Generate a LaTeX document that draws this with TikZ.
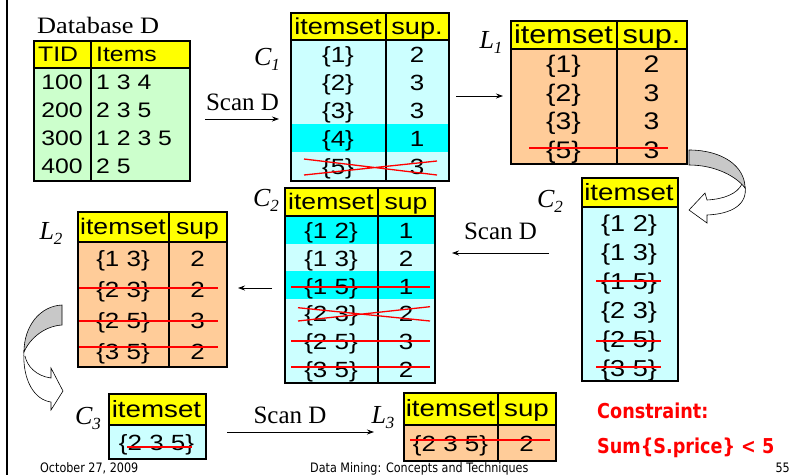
\documentclass[tikz,border=0pt]{standalone}
\usepackage{fontspec}
\setmainfont{Liberation Serif}
\newfontfamily\arialf[FakeStretch=1.18]{Liberation Sans}
\newfontfamily\dbfont[FakeStretch=1.12]{Liberation Serif}
\newfontfamily\tahomaf[FakeStretch=0.86]{DejaVu Sans}
\usetikzlibrary{arrows.meta}
\definecolor{hdrY}{RGB}{255,255,0}
\definecolor{bodyG}{RGB}{204,255,204}
\definecolor{bodyC}{RGB}{204,255,255}
\definecolor{hiC}{RGB}{0,255,255}
\definecolor{bodyO}{RGB}{255,204,153}
\definecolor{strikeR}{RGB}{255,0,0}
\definecolor{ribbon}{RGB}{200,200,200}
\tikzset{
  tx/.style={font=\arialf\fontsize{#1}{#1}\selectfont, inner sep=0pt,
             text height={0.716*#1pt}, text depth=0pt},
  tx/.default=22,
  lbl/.style={font=\fontsize{25}{25}\selectfont, inner sep=0pt,
              text height=16.5pt, text depth=0pt},
  ilbl/.style={font=\itshape\fontsize{26}{26}\selectfont, inner sep=0pt,
               text height=17pt, text depth=0pt},
  frame/.style={draw=black, line width=1.6pt, inner sep=0pt},
  grid/.style={draw=black, line width=1.4pt},
  strike/.style={draw=strikeR, line width=2.6pt},
  cross/.style={draw=strikeR, line width=1.3pt},
  flow/.style={draw=black, line width=0.8pt, -{Stealth[length=7pt,width=5pt]}},
  ribbonface/.style={fill=ribbon, draw=black, line width=0.6pt},
  ribbonback/.style={fill=white, draw=black, line width=0.6pt},
  note/.style={font=\tahomaf\bfseries\fontsize{20.5}{20.5}\selectfont,
               text=strikeR, inner sep=0pt, anchor=base west},
  foot/.style={font=\tahomaf\fontsize{13}{13}\selectfont, inner sep=0pt}
}
\newcommand\subl[2]{#1\raisebox{-5pt}{\fontsize{17}{17}\selectfont #2}}
\begin{document}
\begin{tikzpicture}[x=1pt,y=-1pt]
\useasboundingbox (0,0) rectangle (795,475);
\fill[white] (0,0) rectangle (795,475);
% slide margin rule
\draw[line width=2pt] (7,0) -- (7,475);

% ---------------- Database D ----------------
\node[font=\dbfont\fontsize{23.5}{23.5}\selectfont, inner sep=0pt, anchor=base west] (dbtitle) at (37,33) {Database D};
\fill[bodyG] (33,40) rectangle (189,180);
\fill[hdrY] (33,40) rectangle (189,68);
\draw[grid] (33,68) -- (189,68) (91,40) -- (91,180);
\node[frame, minimum width=156pt, minimum height=140pt, anchor=north west] (db) at (33,40) {};
\node[tx=21, anchor=west] (dbh1) at (38,54) {TID};
\node[tx=21, anchor=west] (dbh2) at (96,54) {Items};
\node[tx=21] (dbt1) at (62,82) {100};  \node[tx=21, anchor=west] (dbi1) at (96,82) {1 3 4};
\node[tx=21] (dbt2) at (62,110) {200}; \node[tx=21, anchor=west] (dbi2) at (96,110) {2 3 5};
\node[tx=21] (dbt3) at (62,138) {300}; \node[tx=21, anchor=west] (dbi3) at (96,138) {1 2 3 5};
\node[tx=21] (dbt4) at (62,166) {400}; \node[tx=21, anchor=west] (dbi4) at (96,166) {2 5};

% scan to C1
\node[lbl] (scan1) at (242.5,102.5) {Scan D};
\coordinate (s1a) at (205,119);
\coordinate (s1b) at (279,119);
\draw[flow] (s1a) -- (s1b);

% ---------------- C1 ----------------
\node[ilbl] (c1lab) at (267,56.5) {\subl{C}{1}};
\fill[bodyC] (290,40) rectangle (448,180);
\fill[hiC] (290,124) rectangle (448,152);
\fill[hdrY] (290,12) rectangle (448,40);
\draw[grid] (290,40) -- (448,40) (386,12) -- (386,180);
\node[frame, minimum width=158pt, minimum height=168pt, anchor=north west] (c1) at (290,12) {};
\node[tx=23] (c1h1) at (338,26) {itemset};
\node[tx=23] (c1h2) at (417,26) {sup.};
\node[tx] (c1a1) at (338,55) {\{1\}}; \node[tx] (c1b1) at (417,55) {2};
\node[tx] (c1a2) at (338,83) {\{2\}}; \node[tx] (c1b2) at (417,83) {3};
\node[tx] (c1a3) at (338,111) {\{3\}}; \node[tx] (c1b3) at (417,111) {3};
\node[tx] (c1a4) at (338,139) {\{4\}}; \node[tx] (c1b4) at (417,139) {1};
\node[tx] (c1a5) at (338,167) {\{5\}}; \node[tx] (c1b5) at (417,167) {3};
\draw[cross] (304,159) -- (437,175) (304,175) -- (437,161);

% C1 to L1
\coordinate (s2a) at (456,96);
\coordinate (s2b) at (503,96);
\draw[flow] (s2a) -- (s2b);

% ---------------- L1 ----------------
\node[ilbl] (l1lab) at (491,40) {\subl{L}{1}};
\fill[bodyO] (510,49) rectangle (686,163);
\fill[hdrY] (510,20) rectangle (686,49);
\draw[grid] (510,49) -- (686,49) (617,20) -- (617,163);
\node[frame, minimum width=176pt, minimum height=143pt, anchor=north west] (l1) at (510,20) {};
\node[tx=26] (l1h1) at (563.5,34.5) {itemset};
\node[tx=26] (l1h2) at (651.5,34.5) {sup.};
\node[tx=24] (l1a1) at (563.5,64) {\{1\}}; \node[tx=24] (l1b1) at (651.5,64) {2};
\node[tx=24] (l1a2) at (563.5,92.5) {\{2\}}; \node[tx=24] (l1b2) at (651.5,92.5) {3};
\node[tx=24] (l1a3) at (563.5,121) {\{3\}}; \node[tx=24] (l1b3) at (651.5,121) {3};
\node[tx=24] (l1a4) at (563.5,149.5) {\{5\}}; \node[tx=24] (l1b4) at (651.5,149.5) {3};
\draw[strike] (529,148) -- (668,148);

% ribbon arrow from L1 down to C2
\filldraw[ribbonback] (745,186) .. controls (748,205) and (731,214) .. (707,215)
   -- (707,223) -- (689,210) -- (705,193) -- (707,200)
   .. controls (724,199) and (737,194) .. (742,184);
\filldraw[ribbonface] (689,150) .. controls (722,150) and (745,166) .. (745,188)
   .. controls (737,177) and (716,165) .. (689,165) -- cycle;

% ---------------- C2 (candidates) ----------------
\node[ilbl] (c2rlab) at (550,199) {\subl{C}{2}};
\fill[bodyC] (581,207) rectangle (677,380);
\fill[hdrY] (581,177) rectangle (677,207);
\draw[grid] (581,207) -- (677,207);
\node[frame, minimum width=96pt, minimum height=203pt, anchor=north west] (c2r) at (581,177) {};
\node[tx=23.5] (c2rh) at (629,192) {itemset};
\node[tx=23] (c2r1) at (629,223.5) {\{1 2\}};
\node[tx=23] (c2r2) at (629,252.5) {\{1 3\}};
\node[tx=23] (c2r3) at (629,281.5) {\{1 5\}};
\node[tx=23] (c2r4) at (629,310.5) {\{2 3\}};
\node[tx=23] (c2r5) at (629,339.5) {\{2 5\}};
\node[tx=23] (c2r6) at (629,368.5) {\{3 5\}};
\draw[strike] (596,281) -- (661,281) (596,341) -- (661,341) (596,367) -- (661,367);

% scan to counted C2
\node[lbl] (scan2) at (500.5,231) {Scan D};
\coordinate (s3a) at (549,253);
\coordinate (s3b) at (452,253);
\draw[flow] (s3a) -- (s3b);

% ---------------- C2 (counted) ----------------
\node[ilbl] (c2mlab) at (266,198) {\subl{C}{2}};
\fill[bodyC] (284,216) rectangle (434,382);
\fill[hiC] (284,216) rectangle (434,243.7);
\fill[hiC] (284,271.3) rectangle (434,299);
\fill[hdrY] (284,187) rectangle (434,216);
\draw[grid] (284,216) -- (434,216) (378,187) -- (378,382);
\node[frame, minimum width=150pt, minimum height=195pt, anchor=north west] (c2m) at (284,187) {};
\node[tx=22.5] (c2mh1) at (331,201.5) {itemset};
\node[tx=22.5] (c2mh2) at (406,201.5) {sup};
\node[tx] (c2ma1) at (331,230.8) {\{1 2\}}; \node[tx] (c2mb1) at (406,230.8) {1};
\node[tx] (c2ma2) at (331,258.5) {\{1 3\}}; \node[tx] (c2mb2) at (406,258.5) {2};
\node[tx] (c2ma3) at (331,286.2) {\{1 5\}}; \node[tx] (c2mb3) at (406,286.2) {1};
\node[tx] (c2ma4) at (331,313.8) {\{2 3\}}; \node[tx] (c2mb4) at (406,313.8) {2};
\node[tx] (c2ma5) at (331,341.5) {\{2 5\}}; \node[tx] (c2mb5) at (406,341.5) {3};
\node[tx] (c2ma6) at (331,369.2) {\{3 5\}}; \node[tx] (c2mb6) at (406,369.2) {2};
\draw[strike] (291,287) -- (430,287) (291,341) -- (430,341) (291,367) -- (430,367);
\draw[cross] (298,307.7) -- (430,321) (298,321) -- (430,306.7);

% counted C2 to L2
\coordinate (s4a) at (272,288);
\coordinate (s4b) at (238,288);
\draw[flow] (s4a) -- (s4b);

% ---------------- L2 ----------------
\node[ilbl] (l2lab) at (51,231) {\subl{L}{2}};
\fill[bodyO] (77,242) rectangle (226,366);
\fill[hdrY] (77,211) rectangle (226,242);
\draw[grid] (77,242) -- (226,242) (169,211) -- (169,366);
\node[frame, minimum width=149pt, minimum height=155pt, anchor=north west] (l2) at (77,211) {};
\node[tx=22.5] (l2h1) at (123,226.5) {itemset};
\node[tx=22.5] (l2h2) at (197.5,226.5) {sup};
\node[tx] (l2a1) at (123,258.5) {\{1 3\}}; \node[tx] (l2b1) at (197.5,258.5) {2};
\node[tx] (l2a2) at (123,289.5) {\{2 3\}}; \node[tx] (l2b2) at (197.5,289.5) {2};
\node[tx] (l2a3) at (123,320.5) {\{2 5\}}; \node[tx] (l2b3) at (197.5,320.5) {3};
\node[tx] (l2a4) at (123,351.5) {\{3 5\}}; \node[tx] (l2b4) at (197.5,351.5) {2};
\draw[strike] (79,288) -- (218,288) (79,321) -- (218,321) (79,347) -- (218,347);

% ribbon arrow from L2 down to C3
\filldraw[ribbonback] (24,350) .. controls (22,381) and (35,400) .. (51,402)
   -- (51,410) -- (63,391) -- (51,368) -- (51,378)
   .. controls (36,376) and (27,366) .. (25,356);
\filldraw[ribbonface] (62,305) .. controls (40,306) and (24,326) .. (24,352)
   .. controls (30,338) and (45,326) .. (62,325) -- cycle;

% ---------------- C3 ----------------
\node[ilbl] (c3lab) at (88,416) {\subl{C}{3}};
\fill[bodyC] (108,425) rectangle (205,458);
\fill[hdrY] (108,393) rectangle (205,425);
\draw[grid] (108,425) -- (205,425);
\node[frame, minimum width=97pt, minimum height=65pt, anchor=north west] (c3) at (108,393) {};
\node[tx=23.5] (c3h) at (156.5,409) {itemset};
\node[tx] (c3a) at (156.5,443) {\{2 3 5\}};
\draw[strike] (127,447) -- (192,447);

% scan to L3
\node[lbl] (scan3) at (290,415.5) {Scan D};
\coordinate (s5a) at (227,432);
\coordinate (s5b) at (374,432);
\draw[flow] (s5a) -- (s5b);

% ---------------- L3 ----------------
\node[ilbl] (l3lab) at (383,415) {\subl{L}{3}};
\fill[bodyO] (403,425) rectangle (555,460);
\fill[hdrY] (403,392) rectangle (555,425);
\draw[grid] (403,425) -- (555,425) (498,392) -- (498,460);
\node[frame, minimum width=152pt, minimum height=68pt, anchor=north west] (l3) at (403,392) {};
\node[tx=23.5] (l3h1) at (450.5,408.5) {itemset};
\node[tx=23.5] (l3h2) at (526.5,408.5) {sup};
\node[tx] (l3a) at (450.5,443.5) {\{2 3 5\}};
\node[tx] (l3b) at (526.5,443.5) {2};
\draw[strike] (410,440) -- (550,440);

% constraint note
\node[note] (cons1) at (597,418) {Constraint:};
\node[note] (cons2) at (597,453) {Sum\{S.price\} < 5};

% footer
\node[foot, anchor=base west] (fdate) at (40,472) {October 27, 2009};
\node[foot, anchor=base west] (ftitle) at (310,472) {Data Mining: Concepts and Techniques};
\node[foot, anchor=base east] (fpage) at (790,472) {55};
\end{tikzpicture}
\end{document}
